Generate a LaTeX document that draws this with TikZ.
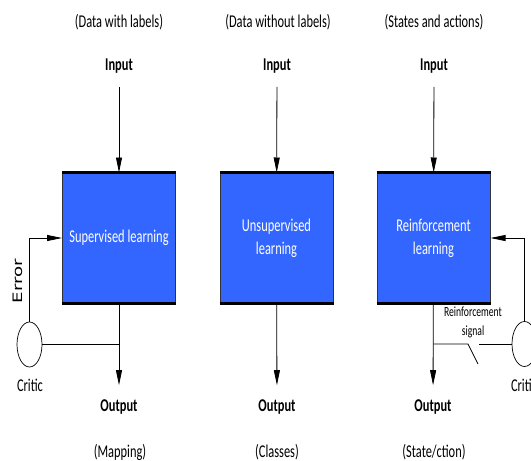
\documentclass[tikz,border=0pt]{standalone}
\usepackage{fontspec}
\setmainfont{Carlito}[FakeStretch=0.69]
\newfontfamily\errfont{DejaVu Sans}[FakeStretch=1.4]
\usepackage{tikz}
\usetikzlibrary{arrows.meta,shapes.geometric}
\definecolor{azul}{RGB}{51,102,255}

\begin{document}
\begin{tikzpicture}[x=1pt, y=-1pt,
    caja/.style={rectangle, draw=black!80, line width=1pt, fill=azul, text=white,
        minimum width=113pt, minimum height=130pt, align=center,
        font=\fontsize{18}{23}\selectfont},
    etiq/.style={font=\fontsize{18}{22}\selectfont},
    negr/.style={font=\fontsize{18}{22}\selectfont\bfseries},
    flecha/.style={-{Triangle[length=15pt,width=6pt]}, line width=0.8pt},
    linea/.style={line width=0.8pt},
    critico/.style={ellipse, draw, line width=0.7pt, minimum width=25pt,
        minimum height=45pt, inner sep=0pt}]
    \clip (0,0) rectangle (531,461);

    % Definición de los nodos
    \node[etiq] (d1) at (119,22) {(Data with labels)};
    \node[etiq] (d2) at (278,22) {(Data without labels)};
    \node[etiq] (d3) at (434,22) {(States and actions)};

    \node[negr] (in1) at (119,66) {Input};
    \node[negr] (in2) at (277,66) {Input};
    \node[negr] (in3) at (434,66) {Input};

    \node[caja] (sup) at (119,238) {Supervised learning};
    \node[caja] (uns) at (276.5,238) {Unsupervised\\learning};
    \node[caja] (rl) at (433.5,238) {Reinforcement\\learning};

    \node[negr] (out1) at (119,407) {Output};
    \node[negr] (out2) at (277,407) {Output};
    \node[negr] (out3) at (433,407) {Output};

    \node[etiq] (m1) at (120,452) {(Mapping)};
    \node[etiq] (m2) at (277,452) {(Classes)};
    \node[etiq] (m3) at (434,452) {(State/ction)};

    \node[critico] (crit1) at (29.5,344.5) {};
    \node[critico] (crit2) at (524.5,344) {};
    \node[etiq] (c1) at (30,385) {Critic};
    \node[etiq] (c2) at (524,385) {Critic};
    \node[font=\errfont\fontsize{13}{15}\selectfont, rotate=90] (err) at (18,281) {Error};
    \node[font=\fontsize{14}{19}\selectfont, align=center] (rs) at (473,322) {Reinforcement\\signal};

    % Bordes gruesos de las cajas
    \draw[line width=2.5pt] (sup.north west) -- (sup.north east) (sup.south west) -- (sup.south east);
    \draw[line width=2.5pt] (uns.north west) -- (uns.north east) (uns.south west) -- (uns.south east);
    \draw[line width=2.5pt] (rl.north west) -- (rl.north east) (rl.south west) -- (rl.south east);

    % Definición de las aristas
    \draw[flecha, shorten <=10pt] (in1) -- (sup);
    \draw[flecha, shorten <=10pt] (in2) -- (uns);
    \draw[flecha, shorten <=10pt] (in3) -- (rl);
    \draw[flecha, shorten >=11pt] (sup) -- (out1);
    \draw[flecha, shorten >=11pt] (uns) -- (out2);
    \draw[flecha, shorten >=11pt] (rl) -- (out3);

    \draw[flecha] (crit1.north) |- (sup.west);
    \draw[linea] (crit1.east) -- (crit1.east -| sup.south);

    \coordinate (sa) at (468,344);
    \coordinate (sb) at (478,364);
    \coordinate (sc) at (479,344);
    \draw[flecha] (crit2.north) |- (rl.east);
    \draw[linea] (crit2.west -| rl.south) -- (sa) -- (sb);
    \draw[linea] (sc) -- (crit2.west);
\end{tikzpicture}
\end{document}
